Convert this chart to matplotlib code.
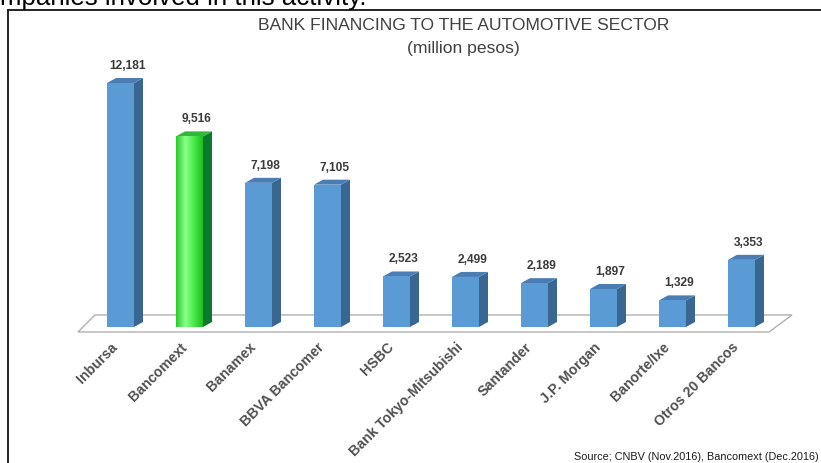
import numpy as np
import matplotlib
matplotlib.use('Agg')
import matplotlib.pyplot as plt
from matplotlib.patches import Polygon
from matplotlib.lines import Line2D
from matplotlib.colors import LinearSegmentedColormap

# data (million pesos)
banks = ['Inbursa', 'Bancomext', 'Banamex', 'BBVA Bancomer', 'HSBC',
         'Bank Tokyo-Mitsubishi', 'Santander', 'J.P. Morgan', 'Banorte/Ixe',
         'Otros 20 Bancos']
amounts = [12181, 9516, 7198, 7105, 2523, 2499, 2189, 1897, 1329, 3353]
highlight = 'Bancomext'

plt.rcParams['font.family'] = ['Liberation Sans', 'DejaVu Sans']

W, H = 821, 463
fig = plt.figure(figsize=(W / 100, H / 100), dpi=100)
ax = fig.add_axes([0, 0, 1, 1])
ax.axis('off')

# one category = 69 px, one million pesos = 0.02003 px
px_x = 1 / 69.0
px_y = 1 / 0.02003
xlim = (-120.5 * px_x, (W - 120.5) * px_x)
ylim = (-(H - 327) * px_y, 327 * px_y)

half = 13.5 * px_x     # half of the front face width
dx = 9 * px_x          # 3d depth
dy = 5 * px_y

blue = ('#5b9bd5', '#3a6792', '#4a7db3')
green = ('#33d633', '#0b7a2e', '#2fb83a')
green_cmap = LinearSegmentedColormap.from_list(
    'g', [(0, '#2acb2a'), (0.35, '#8cff8c'), (0.6, '#55f055'), (1, '#1fbf1f')])

# floor
n = len(banks)
floor = Polygon([(-0.616, -250), (n - 1 + 0.399, -250),
                 (n - 1 + 0.732, 600), (-0.370, 600)],
                closed=True, facecolor='white', edgecolor='#b0b0b0', lw=1.0, zorder=1)
ax.add_patch(floor)

for i, (name, v) in enumerate(zip(banks, amounts)):
    front, side, top = green if name == highlight else blue
    x0, x1 = i - half, i + half
    ax.add_patch(Polygon([(x1, 0), (x1 + dx, dy), (x1 + dx, v + dy), (x1, v)],
                         closed=True, facecolor=side, edgecolor='none', zorder=2))
    ax.add_patch(Polygon([(x0, v), (x1, v), (x1 + dx, v + dy), (x0 + dx, v + dy)],
                         closed=True, facecolor=top, edgecolor='none', zorder=2))
    if name == highlight:
        grad = np.linspace(0, 1, 64).reshape(1, -1)
        ax.imshow(grad, cmap=green_cmap, extent=[x0, x1, 0, v], aspect='auto',
                  zorder=3, interpolation='bilinear')
    else:
        ax.add_patch(Polygon([(x0, 0), (x1, 0), (x1, v), (x0, v)], closed=True,
                             facecolor=front, edgecolor='none', zorder=3))
    ax.text(i + dx / 2 + 0.03, v + dy + 12 * px_y, f'{v:,}', ha='center', va='center',
            fontsize=8.6, fontweight='bold', color='#3a3a3a', zorder=4)
    ax.text(i - 5 * px_x, -18 * px_y, name, ha='right', va='center', rotation=45,
            rotation_mode='anchor', fontsize=10.2, fontweight='bold', color='#505050')

ax.set_xlim(*xlim)
ax.set_ylim(*ylim)

# titles and notes
fig.text(463.5 / W, 1 - 26 / H, 'BANK FINANCING TO THE AUTOMOTIVE SECTOR',
         ha='center', va='center', fontsize=12.6, color='#404040')
fig.text(463.5 / W, 1 - 49 / H, '(million pesos)',
         ha='center', va='center', fontsize=12.6, color='#404040')
fig.text(819 / W, 1 - 457 / H, 'Source; CNBV (Nov.2016), Bancomext (Dec.2016)',
         ha='right', va='center', fontsize=7.8, color='#1a1a1a')
fig.text(0, 1 - 5.5 / H, 'mpanies involved in this activity.', ha='left',
         va='baseline', fontsize=18.6, color='black')

# frame
fig.add_artist(Line2D([8 / W, 8 / W], [0, 1 - 10 / H], color='#222222', lw=1.4))
fig.add_artist(Line2D([8 / W, 1], [1 - 10 / H, 1 - 10 / H], color='#222222', lw=1.4))

fig.savefig('out.png', dpi=100)
